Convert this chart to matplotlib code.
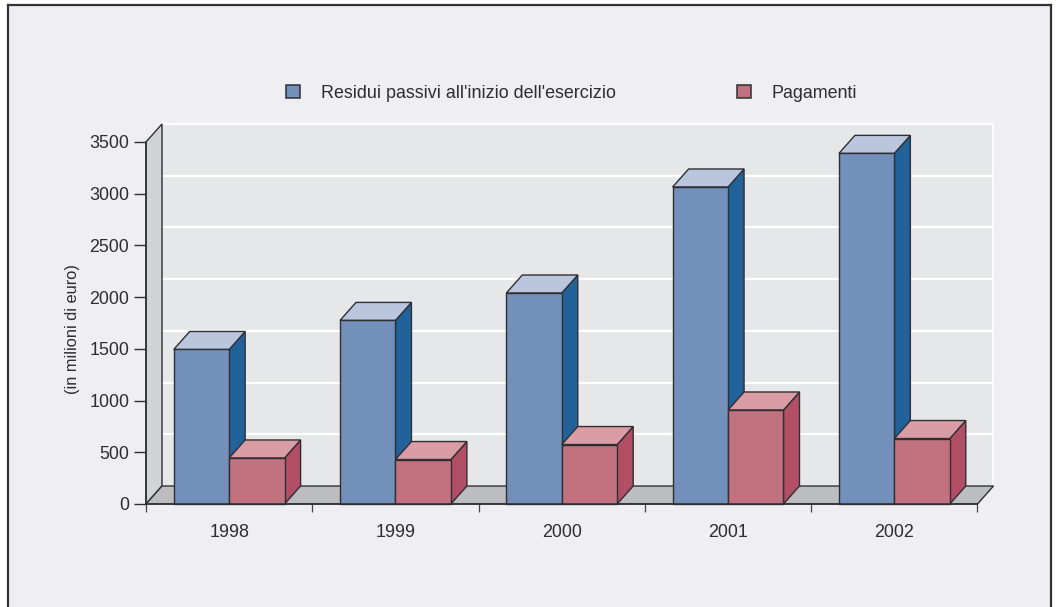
import matplotlib
matplotlib.use("Agg")
import matplotlib.pyplot as plt
from matplotlib.lines import Line2D
from matplotlib.patches import Polygon, Rectangle

years = ["1998", "1999", "2000", "2001", "2002"]
residui = [1494, 1775, 2040, 3065, 3390]
pagamenti = [445, 430, 575, 909, 633]
yticks = [0, 500, 1000, 1500, 2000, 2500, 3000, 3500]
series_names = ["Residui passivi all'inizio dell'esercizio", "Pagamenti"]
ylabel = "(in milioni di euro)"

W, H = 1057, 607
L, R, B, T = 146.0, 977.5, 504.0, 142.0
plt.rcParams["font.family"] = ["Liberation Sans", "DejaVu Sans"]
TXT = "#2e2e30"
EDGE = "#2f2f33"
fs = 12.85

fig = plt.figure(figsize=(W / 100, H / 100), dpi=100, facecolor="white")
fig.add_artist(Rectangle((8 / W, 0), (1050.5 - 8) / W, (H - 5) / H, transform=fig.transFigure,
                         facecolor="#EEEEF3", edgecolor="none", zorder=-10))
for xs, ys in [((8, 8), (607, 5)), ((8, 1050.5), (5, 5)), ((1050.5, 1050.5), (5, 607))]:
    fig.add_artist(Line2D([x / W for x in xs], [1 - y / H for y in ys], transform=fig.transFigure,
                          color="#333336", lw=1.6, zorder=-9))

ax = fig.add_axes([L / W, 1 - B / H, (R - L) / W, (B - T) / H])
ax.patch.set_visible(False)
ax.set_xlim(0, 5)
ax.set_ylim(0, 3500)

# depth of the 3D effect in data units
dx = 16 / ((R - L) / 5)
dy = 18 / ((B - T) / 3500)
bw = 1 / 3


def poly(points, face, z, edge=EDGE, lw=1.0):
    ax.add_patch(Polygon(points, closed=True, facecolor=face, edgecolor=edge, lw=lw,
                         zorder=z, clip_on=False, joinstyle="miter"))


ymax = yticks[-1]
poly([(dx, dy), (5 + dx, dy), (5 + dx, ymax + dy), (dx, ymax + dy)], "#E6E7E9", 1, edge="none")
for v in yticks:
    ax.plot([dx, 5 + dx], [v + dy, v + dy], color="white", lw=1.6, zorder=1.5, clip_on=False,
            solid_capstyle="butt")
ax.plot([5 + dx, 5 + dx], [dy, ymax + dy], color="white", lw=1.2, zorder=1.5, clip_on=False)
poly([(0, 0), (dx, dy), (dx, ymax + dy), (0, ymax)], "#D2D3D5", 2)
poly([(0, 0), (5, 0), (5 + dx, dy), (dx, dy)], "#BCBDC0", 2)


def bar3d(x0, v, front, top, side, z):
    x1 = x0 + bw
    poly([(x1, 0), (x1 + dx, dy), (x1 + dx, v + dy), (x1, v)], side, z)
    poly([(x0, v), (x1, v), (x1 + dx, v + dy), (x0 + dx, v + dy)], top, z + 0.01)
    poly([(x0, 0), (x1, 0), (x1, v), (x0, v)], front, z + 0.02)


for i in range(len(years)):
    left = i + 0.5 - bw
    bar3d(left, residui[i], "#7290B9", "#BAC6DE", "#22629B", 3 + i)
    bar3d(left + bw, pagamenti[i], "#C2717F", "#DA9DA6", "#B24E66", 3.5 + i)

for s in ("top", "right"):
    ax.spines[s].set_visible(False)
for s in ("left", "bottom"):
    ax.spines[s].set_color(EDGE)
    ax.spines[s].set_linewidth(1.1)
    ax.spines[s].set_zorder(20)

ax.set_yticks(yticks)
ax.set_yticks(range(0, ymax + 1, 100), minor=True)
ax.tick_params(axis="y", which="major", direction="out", length=8.6, width=1.0, color=EDGE,
               labelsize=fs, labelcolor=TXT, pad=3.5)
ax.tick_params(axis="y", which="minor", direction="in", length=1.5, width=0.7, color="#555558")
ax.set_xticks(range(6))
ax.set_xticklabels([])
ax.set_xticks([i + 0.5 for i in range(5)], minor=True)
ax.set_xticklabels(years, minor=True)
ax.tick_params(axis="x", which="major", direction="out", length=5.6, width=0.9, color="#444448")
ax.tick_params(axis="x", which="minor", length=0, labelsize=fs, labelcolor=TXT, pad=14.3)

fig.text(72 / W, 1 - 329 / H, ylabel, rotation=90, ha="center", va="center", fontsize=11.8, color=TXT)

px = fs * 100 / 72
handles = [Rectangle((0, 0), 1, 1, facecolor="#7290B9", edgecolor=EDGE, lw=1.1),
           Rectangle((0, 0), 1, 1, facecolor="#C2717F", edgecolor=EDGE, lw=1.1)]
fig.legend(handles, series_names, loc="center left", bbox_to_anchor=(286 / W, 1 - 93 / H),
           bbox_transform=fig.transFigure, ncol=2, frameon=False, prop={"size": fs},
           labelcolor=TXT, borderpad=0, borderaxespad=0, handlelength=14 / px,
           handleheight=14 / px, handletextpad=21 / px, columnspacing=121 / px)

fig.savefig("out.png", dpi=100, facecolor=fig.get_facecolor())
